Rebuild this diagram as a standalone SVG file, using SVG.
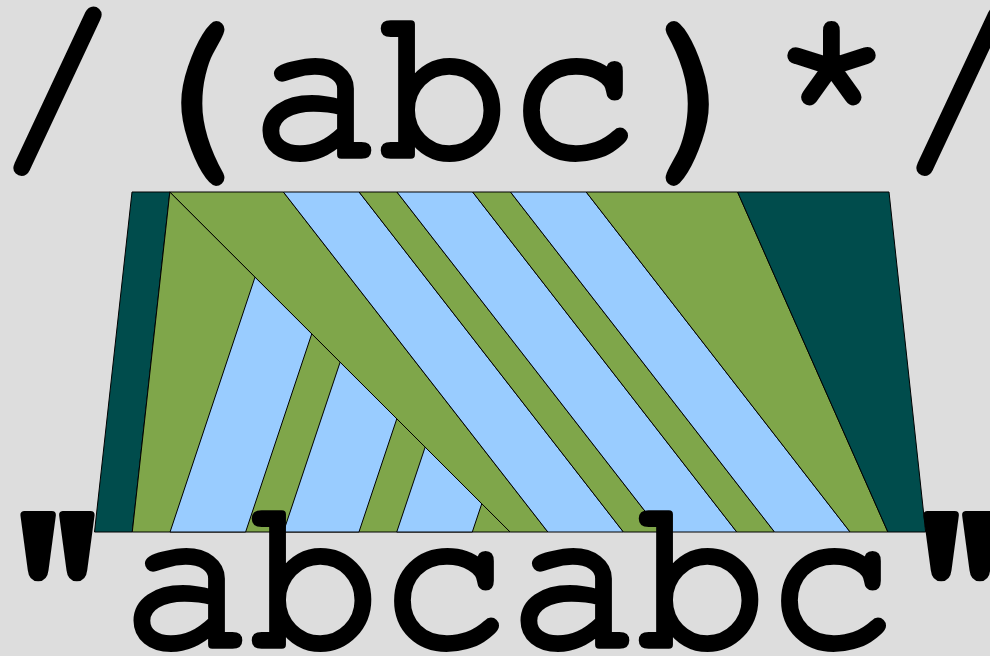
<svg xmlns="http://www.w3.org/2000/svg" width="990" height="656" viewBox="0 0 990 656">
<style>
.s{stroke:#000;stroke-width:1;stroke-linejoin:miter}
.t{fill:#004c4c}
.g{fill:#7fa64a}
.b{fill:#99ccff}
.txt{font-family:"Nimbus Mono PS","Nimbus Mono L","FreeMono","Courier New",Courier,"Liberation Mono",monospace;font-size:215px;fill:#000;stroke:#000;stroke-width:8;stroke-linejoin:round}
</style>
<rect x="0" y="0" width="990" height="656" fill="#dddddd"/>
<g id="bands">
<polygon id="teal-left" class="s t" points="132,192 169.85,192 132.28,532 94.5,532"/>
<g id="first-iteration">
<polygon class="s g" points="169.85,192 510.08,532 132.28,532"/>
<polygon class="s b" points="170.06,532 255.03,277.12 311.77,333.82 245.62,532"/>
<polygon class="s b" points="283.4,532 340.12,362.16 396.81,418.81 358.96,532"/>
<polygon class="s b" points="396.74,532 425.14,447.12 481.77,503.71 472.3,532"/>
</g>
<polygon id="main-green" class="s g" points="169.85,192 283.4,192 547.86,532 510.08,532"/>
<g id="second-iteration">
<polygon class="s b" points="283.4,192 359.1,192 623.42,532 547.86,532"/>
<polygon class="s g" points="359.1,192 396.95,192 661.2,532 623.42,532"/>
<polygon class="s b" points="396.95,192 472.65,192 736.76,532 661.2,532"/>
<polygon class="s g" points="472.65,192 510.5,192 774.54,532 736.76,532"/>
<polygon class="s b" points="510.5,192 586.2,192 850.1,532 774.54,532"/>
</g>
<polygon id="green-right" class="s g" points="586.2,192 737.6,192 887.88,532 850.1,532"/>
<polygon id="teal-right" class="s t" points="737.6,192 889,192 925.66,532 887.88,532"/>
</g>
<g id="labels">
<text id="regex" class="txt" x="-7" y="155">/(abc)*/</text>
<text id="input" class="txt" x="-7" y="645">"abcabc"</text>
</g>
</svg>
